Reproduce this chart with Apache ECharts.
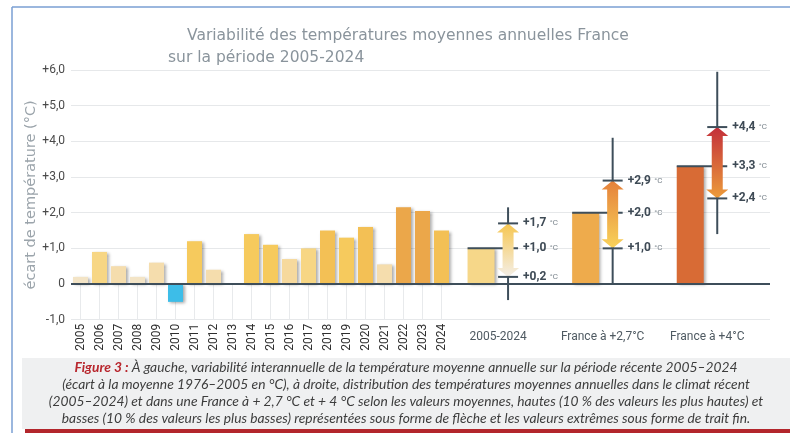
<!DOCTYPE html>
<html>
<head>
<meta charset="utf-8">
<script src="https://cdn.jsdelivr.net/npm/echarts@6/dist/echarts.min.js"></script>
<style>
html, body { margin: 0; padding: 0; background: #fff; }
#container_main { width: 790px; height: 433px; }
</style>
</head>
<body>
<div id="container_main"></div>
<script>
//années et écarts annuels (°C)
var years = ['2005','2006','2007','2008','2009','2010','2011','2012','2013','2014',
	'2015','2016','2017','2018','2019','2020','2021','2022','2023','2024'];
var yearValues = [0.2, 0.9, 0.5, 0.2, 0.6, -0.5, 1.2, 0.4, 0.0, 1.4,
	1.1, 0.7, 1.0, 1.5, 1.3, 1.6, 0.55, 2.15, 2.05, 1.5];
//distributions à droite
var groupNames = ['2005-2024', 'France à +2,7°C', 'France à +4°C'];
var groupMean = [1.0, 2.0, 3.3];
var groupLow = [0.2, 1.0, 2.4];
var groupHigh = [1.7, 2.9, 4.4];
var groupMin = [-0.45, 0.0, 1.4];
var groupMax = [2.15, 4.1, 5.95];
//graduations
var yTickValues = [-1, 0, 1, 2, 3, 4, 5, 6];
var yTickLabels = ['-1,0', '0', '+1,0', '+2,0', '+3,0', '+4,0', '+5,0', '+6,0'];

var groupBarColors = ['#f6d789', '#eeab4c', '#d86b35'];
var arrowTopColors = ['#f6c64f', '#e5803a', '#c32f3a'];
var arrowBottomColors = ['#f4efe8', '#f8d35a', '#ec9c3a'];
var darkLine = '#3e4e5a';

$init();

function yearColor(v) {
	if (v < 0) return '#3dbde8';
	if (v < 0.3) return '#f3e4c6';
	if (v < 0.65) return '#f5ddad';
	if (v < 0.8) return '#f6d99d';
	if (v < 1.05) return '#f7d684';
	if (v < 1.45) return '#f6ca5d';
	if (v < 2) return '#f3c055';
	return '#eba74a';
}

function fmt(v) {
	return '+' + v.toFixed(1).replace('.', ',');
}

/**
 * renderItem des distributions
 */
function renderGroup(params, api) {
	var i = api.value(0);
	var c = api.coord([i, api.value(1)]);
	var y0 = api.coord([i, 0])[1];
	var yLow = api.coord([i, api.value(2)])[1];
	var yHigh = api.coord([i, api.value(3)])[1];
	var yMin = api.coord([i, api.value(4)])[1];
	var yMax = api.coord([i, api.value(5)])[1];
	var yMean = c[1];
	var bx = c[0] - 17 - 13.5;
	var wx = c[0] + 10;
	var sw = 5.5, hw = 11, hh = 9;
	var lbl = function (v, y) {
		return {
			type: 'text',
			style: {
				text: '{v|' + fmt(v) + '} {u|°C}',
				x: wx + 15, y: y,
				verticalAlign: 'middle',
				rich: {
					v: { fontSize: 12, fontWeight: 'bold', fill: '#3e4a55', fontFamily: 'Roboto' },
					u: { fontSize: 8, fill: '#7a848c', fontFamily: 'Roboto' }
				}
			}
		};
	};
	var lineEl = function (x1, y1, x2, y2) {
		return {
			type: 'line',
			shape: { x1: x1, y1: y1, x2: x2, y2: y2 },
			style: { stroke: darkLine, lineWidth: 2 }
		};
	};
	return {
		type: 'group',
		children: [
			{
				type: 'rect',
				shape: { x: bx, y: yMean, width: 27, height: y0 - yMean },
				style: {
					fill: groupBarColors[i],
					shadowBlur: 3, shadowOffsetX: 2, shadowOffsetY: 1,
					shadowColor: 'rgba(0,0,0,0.35)'
				}
			},
			lineEl(wx, yMax, wx, yMin),
			lineEl(bx, yMean, wx + 10, yMean),
			{
				type: 'polygon',
				shape: {
					points: [
						[wx, yHigh], [wx + hw, yHigh + hh], [wx + sw, yHigh + hh],
						[wx + sw, yLow - hh], [wx + hw, yLow - hh], [wx, yLow],
						[wx - hw, yLow - hh], [wx - sw, yLow - hh],
						[wx - sw, yHigh + hh], [wx - hw, yHigh + hh]
					]
				},
				style: {
					fill: new echarts.graphic.LinearGradient(0, 0, 0, 1, [
						{ offset: 0, color: arrowTopColors[i] },
						{ offset: 1, color: arrowBottomColors[i] }
					])
				}
			},
			lineEl(wx - 10, yHigh, wx + 10, yHigh),
			lineEl(wx - 10, yLow, wx + 10, yLow),
			lbl(api.value(3), yHigh),
			lbl(api.value(1), yMean),
			lbl(api.value(2), yLow)
		]
	};
}

function $init() {
	var dom = document.getElementById('container_main');
	var myChart = echarts.init(dom);

	var groupData = [];
	for (var i = 0; i < groupNames.length; i++) {
		groupData.push([i, groupMean[i], groupLow[i], groupHigh[i], groupMin[i], groupMax[i]]);
	}
	var barData = [];
	for (var j = 0; j < yearValues.length; j++) {
		barData.push({ value: yearValues[j], itemStyle: { color: yearColor(yearValues[j]) } });
	}

	var splitStyle = { lineStyle: { color: '#e6e8ea', width: 1 } };
	var caption = '{r|Figure 3 :} À gauche, variabilité interannuelle de la température moyenne annuelle sur la période récente 2005–2024\n' +
		'(écart à la moyenne 1976–2005 en °C), à droite, distribution des températures moyennes annuelles dans le climat récent\n' +
		'(2005–2024) et dans une France à + 2,7 °C et + 4 °C selon les valeurs moyennes, hautes (10 % des valeurs les plus hautes) et\n' +
		'basses (10 % des valeurs les plus basses) représentées sous forme de flèche et les valeurs extrêmes sous forme de trait fin.';

	option = {
		animation: false,
		backgroundColor: '#ffffff',
		title: [
			{
				text: 'Variabilité des températures moyennes annuelles France',
				left: 187, top: 28, padding: 0,
				textStyle: { fontFamily: 'DejaVu Sans', fontSize: 15.5, fontWeight: 'normal', color: '#8a949c' }
			},
			{
				text: 'sur la période 2005-2024',
				left: 168, top: 50, padding: 0,
				textStyle: { fontFamily: 'DejaVu Sans', fontSize: 15.5, fontWeight: 'normal', color: '#8a949c' }
			}
		],
		grid: [
			{ left: 71, right: 339, top: 70, bottom: 113.3 },
			{ left: 451, right: 20, top: 70, bottom: 113.3 }
		],
		xAxis: [
			{
				type: 'category',
				gridIndex: 0,
				data: years,
				axisLine: { show: false },
				axisTick: { show: false },
				splitLine: { show: false },
				axisLabel: { rotate: 90, margin: 4, fontSize: 12, color: '#2e2e2e', fontFamily: 'Roboto' }
			},
			{
				type: 'value',
				gridIndex: 1,
				min: -0.45, max: 2.6,
				axisLine: { show: false },
				axisTick: { show: false },
				splitLine: { show: false },
				axisLabel: {
					customValues: [0, 1, 2],
					margin: 11, fontSize: 12, color: '#4f5a62', fontFamily: 'Roboto',
					formatter: function (v) { return groupNames[Math.round(v)]; }
				}
			}
		],
		yAxis: [
			{
				type: 'value',
				gridIndex: 0,
				min: -1, max: 6, interval: 1,
				name: 'écart de température (°C)',
				nameLocation: 'middle',
				nameRotate: 90,
				nameGap: 27,
				nameTextStyle: { fontSize: 14.5, color: '#9ba4ab', fontFamily: 'DejaVu Sans' },
				axisLine: { show: false },
				axisTick: { show: false },
				splitLine: splitStyle,
				axisLabel: {
					margin: 6, fontSize: 12, color: '#4a4a4a', fontFamily: 'Roboto',
					formatter: function (v) { return yTickLabels[yTickValues.indexOf(v)]; }
				}
			},
			{
				type: 'value',
				gridIndex: 1,
				min: -1, max: 6, interval: 1,
				axisLine: { show: false },
				axisTick: { show: false },
				axisLabel: { show: false },
				splitLine: splitStyle
			}
		],
		series: [
			{
				type: 'custom',
				xAxisIndex: 0, yAxisIndex: 0,
				silent: true, z: 1,
				data: years.map(function (y, k) { return [k, -1]; }),
				renderItem: function (params, api) {
					var a = api.coord([api.value(0), 0]);
					var b = api.coord([api.value(0), -1]);
					return {
						type: 'line',
						shape: { x1: a[0], y1: a[1], x2: b[0], y2: b[1] },
						style: { stroke: '#e8eaec', lineWidth: 1 }
					};
				}
			},
			{
				type: 'bar',
				xAxisIndex: 0, yAxisIndex: 0,
				barWidth: 15, z: 2,
				data: barData,
				itemStyle: {
					shadowBlur: 3, shadowOffsetX: 2, shadowOffsetY: 1,
					shadowColor: 'rgba(0,0,0,0.35)'
				},
				markLine: {
					silent: true, symbol: 'none',
					label: { show: false },
					lineStyle: { color: darkLine, width: 2, type: 'solid' },
					data: [{ yAxis: 0 }]
				}
			},
			{
				type: 'custom',
				xAxisIndex: 1, yAxisIndex: 1,
				z: 3,
				data: groupData,
				encode: { x: 0, y: 1 },
				renderItem: renderGroup,
				markLine: {
					silent: true, symbol: 'none',
					label: { show: false },
					lineStyle: { color: darkLine, width: 2, type: 'solid' },
					data: [{ yAxis: 0 }]
				}
			}
		],
		graphic: [
			{ type: 'line', shape: { x1: 12, y1: 7, x2: 12, y2: 433 }, style: { stroke: '#7a9fd3', lineWidth: 1.5 } },
			{ type: 'line', shape: { x1: 12, y1: 7, x2: 790, y2: 7 }, style: { stroke: '#7a9fd3', lineWidth: 1.5 } },
			{ type: 'rect', shape: { x: 22, y: 358, width: 768, height: 71 }, style: { fill: '#eff0f1' } },
			{ type: 'rect', shape: { x: 25, y: 429, width: 765, height: 4 }, style: { fill: '#b3262c' } },
			{
				type: 'text',
				x: 406, y: 393.5,
				style: {
					text: caption,
					align: 'center', verticalAlign: 'middle',
					fontFamily: 'Lato', fontStyle: 'italic', fontSize: 13.8,
					lineHeight: 17, fill: '#3d3d3d',
					rich: {
						r: { fill: '#b8262d', fontWeight: 'bold', fontStyle: 'italic', fontFamily: 'Lato', fontSize: 13.8 }
					}
				}
			}
		]
	};
	if (option && typeof option === "object") {
		myChart.setOption(option, true);
	}
}
</script>
</body>
</html>
